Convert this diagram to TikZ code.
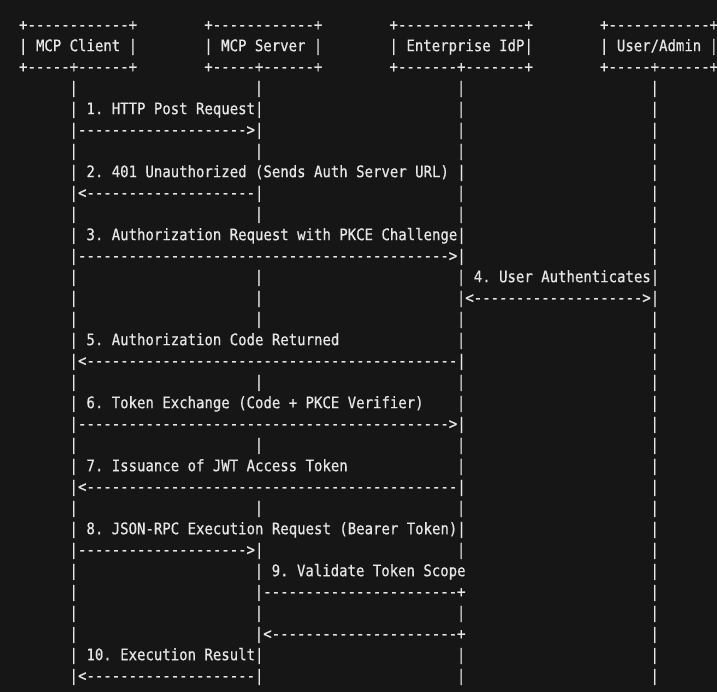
\documentclass[tikz,border=0pt]{standalone}
\usepackage{graphicx}
\usepackage{fontspec}
\newfontfamily\mono{DejaVu Sans Mono}[FakeBold=0.6]
\definecolor{bg}{HTML}{161616}
\definecolor{fg}{HTML}{E6E6E6}
\ExplSyntaxOn
\cs_new:Npn \dashrun #1 { \prg_replicate:nn {#1} {-} }
\ExplSyntaxOff
\tikzset{
  seg/.style={anchor=base west, inner sep=0pt, outer sep=0pt, text=fg,
    font=\mono\fontsize{14pt}{16pt}\selectfont\frenchspacing}
}
\newcommand\seg[4]{\node[seg] (#1) at ({(19.1+#3*8.42)*1pt},{(-30.2-#2*21)*1pt}) {\scalebox{1}[1.14]{#4}};}
\begin{document}
\begin{tikzpicture}[x=1pt,y=1pt]
\fill[bg] (0,0) rectangle (717,-692);
\useasboundingbox (0,0) rectangle (717,-692);
% header boxes
\seg{clientTop}{0}{0}{+------------+}
\seg{serverTop}{0}{22}{+------------+}
\seg{idpTop}{0}{44}{+---------------+}
\seg{userTop}{0}{69}{+------------+}
\seg{client}{1}{0}{| MCP Client |}
\seg{server}{1}{22}{| MCP Server |}
\seg{idp}{1}{44}{| Enterprise IdP|}
\seg{user}{1}{69}{| User/Admin |}
\seg{clientBot}{2}{0}{+-----+------+}
\seg{serverBot}{2}{22}{+-----+------+}
\seg{idpBot}{2}{44}{+-------+-------+}
\seg{userBot}{2}{69}{+-----+------+}
% lifeline pieces
\foreach \r in {3,6,9,12,13,14,17,20,23,26,27,28,29}
  {\node[seg] (lc-\r) at ({(19.1+6*8.42)*1pt},{(-30.2-\r*21)*1pt}) {\scalebox{1}[1.14]{|}};}
\foreach \r in {3,6,9,12,13,14,17,20,23,28}
  {\node[seg] (ls-\r) at ({(19.1+28*8.42)*1pt},{(-30.2-\r*21)*1pt}) {\scalebox{1}[1.14]{|}};}
\foreach \r in {3,4,5,6,8,9,14,15,17,18,20,21,23,25,28,30,31}
  {\node[seg] (li-\r) at ({(19.1+52*8.42)*1pt},{(-30.2-\r*21)*1pt}) {\scalebox{1}[1.14]{|}};}
\foreach \r in {3,4,5,6,7,8,9,10,11,14,15,16,17,18,19,20,21,22,23,24,25,26,27,28,29,30,31}
  {\node[seg] (lu-\r) at ({(19.1+75*8.42)*1pt},{(-30.2-\r*21)*1pt}) {\scalebox{1}[1.14]{|}};}
% messages
\seg{m1}{4}{6}{| 1. HTTP Post Request|}
\seg{a1}{5}{6}{|\dashrun{20}>|}
\seg{m2}{7}{6}{| 2. 401 Unauthorized (Sends Auth Server URL) |}
\seg{a2}{8}{6}{|<\dashrun{20}|}
\seg{m3}{10}{6}{| 3. Authorization Request with PKCE Challenge|}
\seg{a3}{11}{6}{|\dashrun{44}>|}
\seg{m4}{12}{52}{| 4. User Authenticates|}
\seg{a4}{13}{52}{|<\dashrun{20}>|}
\seg{m5}{15}{6}{| 5. Authorization Code Returned}
\seg{a5}{16}{6}{|<\dashrun{44}|}
\seg{m6}{18}{6}{| 6. Token Exchange (Code + PKCE Verifier)}
\seg{a6}{19}{6}{|\dashrun{44}>|}
\seg{m7}{21}{6}{| 7. Issuance of JWT Access Token}
\seg{a7}{22}{6}{|<\dashrun{44}|}
\seg{m8}{24}{6}{| 8. JSON-RPC Execution Request (Bearer Token)|}
\seg{a8}{25}{6}{|\dashrun{20}>|}
\seg{m9}{26}{28}{| 9. Validate Token Scope}
\seg{a9out}{27}{28}{|\dashrun{23}+}
\seg{a9back}{29}{28}{|<\dashrun{22}+}
\seg{m10}{30}{6}{| 10. Execution Result|}
\seg{a10}{31}{6}{|<\dashrun{20}|}
\end{tikzpicture}
\end{document}
